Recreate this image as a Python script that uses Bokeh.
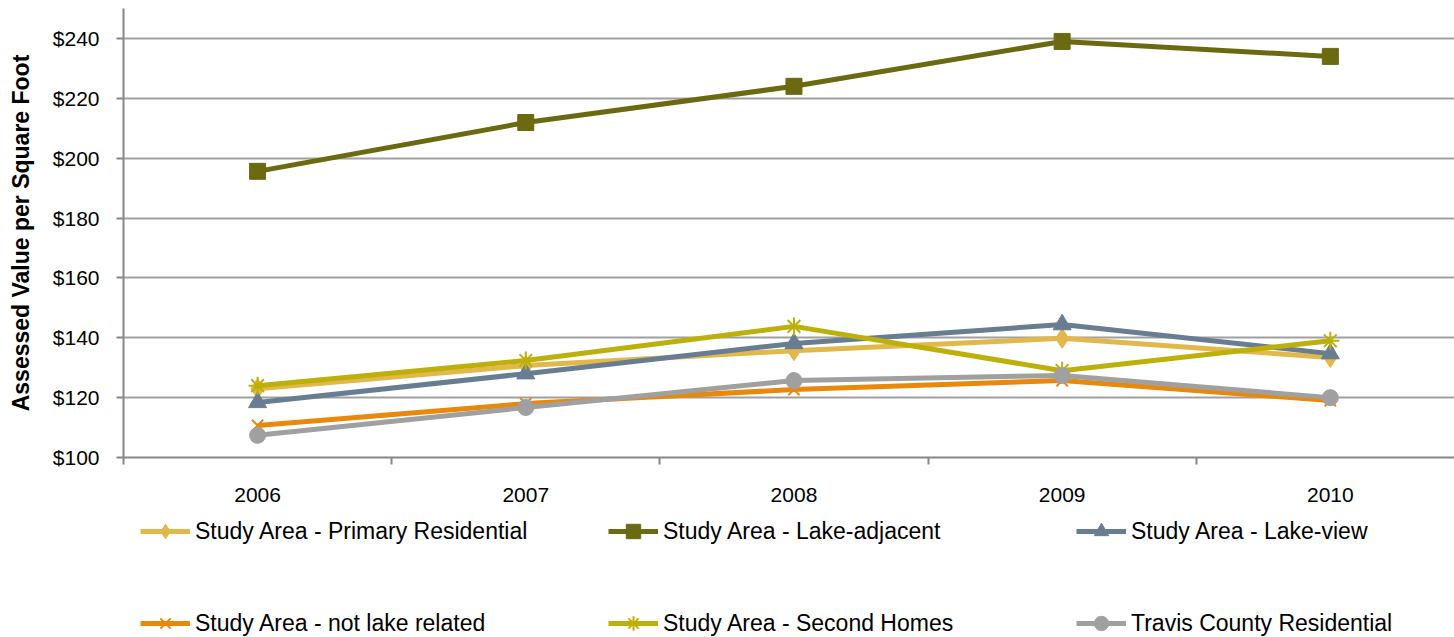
from bokeh.plotting import figure
from bokeh.models import Range1d, FixedTicker, Legend, LegendItem
from bokeh.layouts import column
from bokeh.embed import file_html
from bokeh.resources import INLINE

years = ["2006", "2007", "2008", "2009", "2010"]
y_ticks = [100, 120, 140, 160, 180, 200, 220, 240]
y_tick_labels = ["$100", "$120", "$140", "$160", "$180", "$200", "$220", "$240"]

primary_residential = [123.0, 130.7, 135.7, 139.8, 133.4]
lake_adjacent = [195.6, 211.9, 224.0, 239.0, 234.0]
lake_view = [118.4, 128.0, 138.1, 144.4, 134.7]
not_lake_related = [110.7, 118.0, 122.7, 125.7, 119.0]
second_homes = [124.0, 132.4, 143.8, 129.0, 139.0]
travis_county = [107.4, 116.7, 125.7, 127.4, 120.0]

series = [
    ("Study Area - Primary Residential", primary_residential, "#E2B84B", "diamond", 20),
    ("Study Area - Lake-adjacent", lake_adjacent, "#6B6A10", "square", 16),
    ("Study Area - Lake-view", lake_view, "#687D92", "triangle", 18),
    ("Study Area - not lake related", not_lake_related, "#E8890C", "x", 16),
    ("Study Area - Second Homes", second_homes, "#BDB00B", "asterisk", 18),
    ("Travis County Residential", travis_county, "#A0A0A0", "circle", 16),
]

FONT = "Liberation Sans"
xs = list(range(len(years)))

TOP_H = 512
p = figure(width=1454, height=TOP_H, output_backend="svg", toolbar_location=None,
           x_range=Range1d(-0.5, 4.463), y_range=Range1d(100, 250),
           min_border_left=123, min_border_right=0, min_border_top=8,
           min_border_bottom=TOP_H - 457)
p.outline_line_color = None
p.background_fill_color = "white"
p.border_fill_color = "white"

p.xaxis.ticker = FixedTicker(ticks=xs, minor_ticks=[i - 0.5 for i in range(len(years) + 1)])
p.xaxis.major_label_overrides = {i: y for i, y in enumerate(years)}
p.xaxis.major_tick_out = 0
p.xaxis.major_tick_in = 0
p.xaxis.minor_tick_out = 7
p.xaxis.minor_tick_in = 0
p.xaxis.minor_tick_line_color = "#868686"
p.xaxis.minor_tick_line_width = 2
p.xaxis.axis_line_color = "#868686"
p.xaxis.axis_line_width = 2
p.xaxis.major_label_standoff = 23
p.xaxis.major_label_text_font = FONT
p.xaxis.major_label_text_font_size = "21px"
p.xaxis.major_label_text_color = "black"

p.yaxis.ticker = FixedTicker(ticks=y_ticks)
p.yaxis.major_label_overrides = {t: l for t, l in zip(y_ticks, y_tick_labels)}
p.yaxis.major_tick_out = 7
p.yaxis.major_tick_in = 0
p.yaxis.minor_tick_out = 0
p.yaxis.minor_tick_in = 0
p.yaxis.major_tick_line_color = "#868686"
p.yaxis.major_tick_line_width = 2
p.yaxis.axis_line_color = "#868686"
p.yaxis.axis_line_width = 2
p.yaxis.major_label_standoff = 17
p.yaxis.major_label_text_font = FONT
p.yaxis.major_label_text_font_size = "21px"
p.yaxis.major_label_text_color = "black"
p.yaxis.axis_label = "Assessed Value per Square Foot"
p.yaxis.axis_label_text_font = FONT
p.yaxis.axis_label_text_font_style = "bold"
p.yaxis.axis_label_text_font_size = "23px"
p.yaxis.axis_label_text_color = "black"
p.yaxis.axis_label_standoff = 16

p.xgrid.visible = False
p.ygrid.ticker = FixedTicker(ticks=y_ticks)
p.ygrid.grid_line_color = "#A0A0A0"
p.ygrid.grid_line_width = 2

# legend figure below the chart (its frame is aligned with the chart frame)
LEG_H = 637 - TOP_H
q = figure(width=1454, height=LEG_H, output_backend="svg", toolbar_location=None,
           x_range=Range1d(-0.5, 4.463), y_range=Range1d(0, 1),
           x_axis_location=None, y_axis_location=None,
           min_border_left=123, min_border_right=0, min_border_top=0, min_border_bottom=0)
q.outline_line_color = None
q.xgrid.visible = False
q.ygrid.visible = False
q.border_fill_color = "white"

items = []
for name, vals, color, marker, size in series:
    lw = 2 if marker in ("x", "asterisk") else 1
    p.line(xs, vals, line_color=color, line_width=5)
    p.scatter(xs, vals, marker=marker, size=size, line_color=color, line_width=lw,
              fill_color=color)
    # same series in the legend figure: values lie far outside its y range, so only
    # the legend swatches are visible there
    ln = q.line(xs, vals, line_color=color, line_width=5)
    sc = q.scatter(xs, vals, marker=marker, size=size, line_color=color, line_width=lw,
                   fill_color=color)
    items.append(LegendItem(label=name, renderers=[ln, sc]))

order = [0, 3, 1, 4, 2, 5]
lg = Legend(items=[items[i] for i in order], ncols=3, orientation="vertical",
            location=(17, -4), spacing=56, padding=0, margin=0,
            glyph_width=50, glyph_height=36, label_height=36, label_width=357,
            label_standoff=5,
            label_text_font=FONT, label_text_font_size="23px", label_text_color="black",
            border_line_color=None, background_fill_alpha=0)
q.add_layout(lg, "center")

layout = column(p, q, spacing=0)
open("out.html", "w").write(file_html(layout, INLINE))
